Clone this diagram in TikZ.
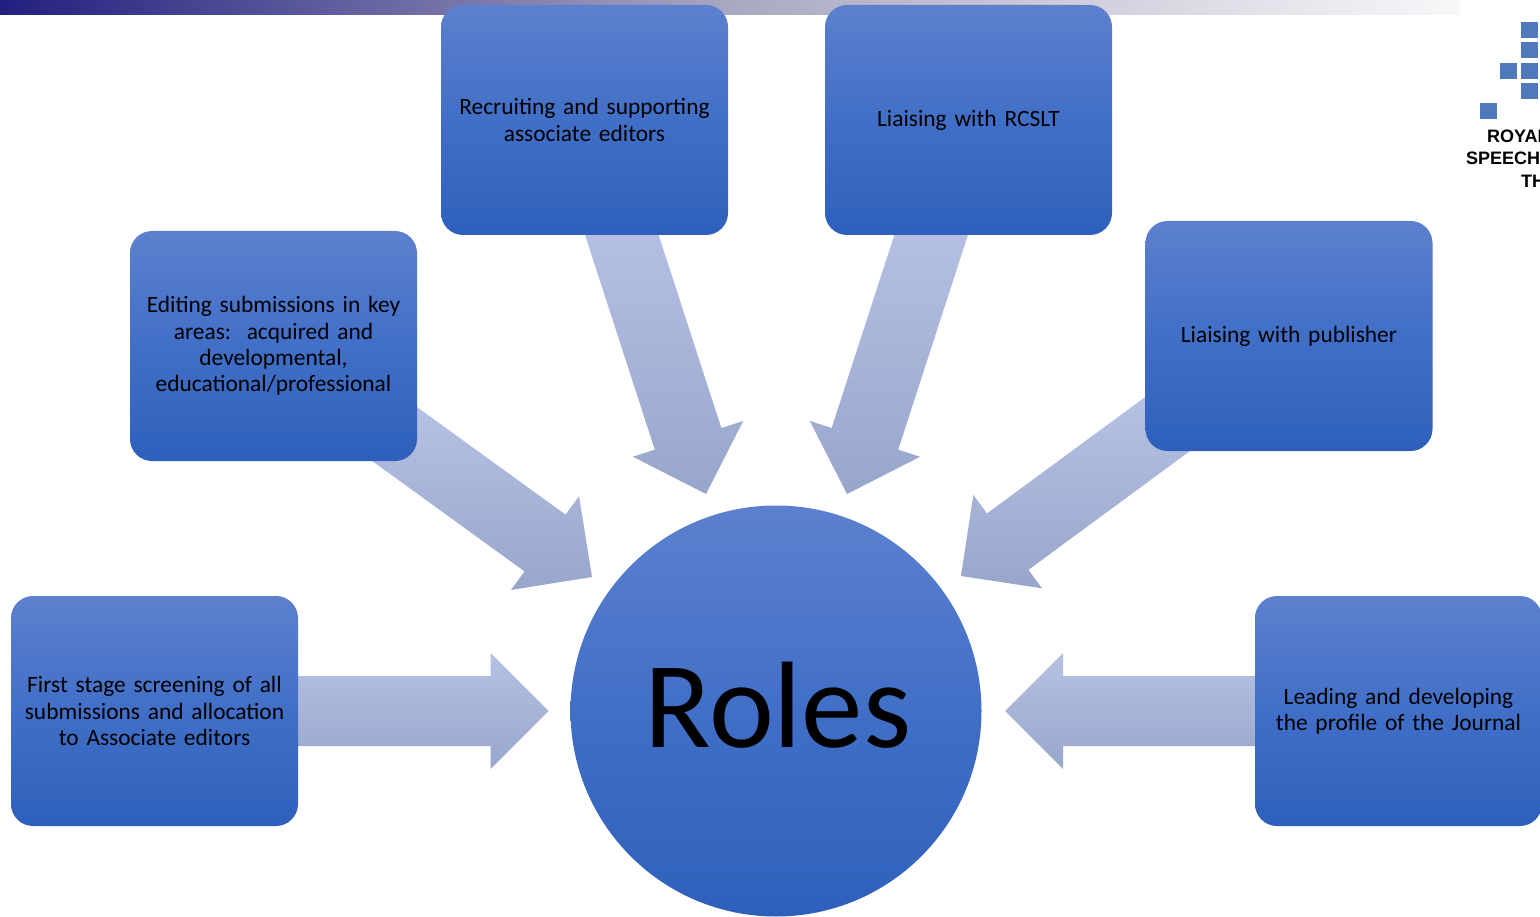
\documentclass[tikz,border=0pt]{standalone}
\usepackage{fontspec}
\setmainfont{Carlito}
\newfontfamily\logofont{Liberation Sans}
\usetikzlibrary{calc,backgrounds}
\definecolor{boxtop}{HTML}{5C80CE}
\definecolor{boxmid}{HTML}{416FC7}
\definecolor{boxbot}{HTML}{2E60BB}
\definecolor{arrowtop}{HTML}{B5C2E4}
\definecolor{arrowbot}{HTML}{99A6CC}
\definecolor{logoblue}{HTML}{4F79BC}
\definecolor{bardark}{HTML}{231F7F}
\definecolor{barmid}{HTML}{A8A8C2}
\definecolor{barlight}{HTML}{F8F8FA}
\tikzset{
	rolebox/.style={rectangle, rounded corners=22pt, minimum width=287pt, minimum height=230pt, inner sep=0pt, text width=280pt, align=center, top color=boxtop, bottom color=boxbot, middle color=boxmid, font=\fontsize{23.4}{26.4}\selectfont},
	rolehub/.style={circle, minimum size=411pt, inner sep=0pt, top color=boxtop, bottom color=boxbot, middle color=boxmid, font=\fontsize{123}{130}\selectfont},
	rolearrowshade/.style={top color=arrowtop, bottom color=arrowbot},
	logosq/.style={rectangle, minimum width=17pt, minimum height=16pt, inner sep=0pt, fill=logoblue},
	logotext/.style={anchor=base west, inner sep=0pt, font=\logofont\bfseries\fontsize{18}{20}\selectfont}
}
\def\rolearrow(#1)(#2)[#3]{
	\coordinate (tail) at ($(#1)!#3!(#2)$);
	\coordinate (neck) at ($(#2)!58pt!(#1)$);
	\shade[rolearrowshade] ($(tail)!35pt!90:(#2)$) -- ($(neck)!35pt!-90:(#1)$) -- ($(neck)!58pt!-90:(#1)$) -- (#2) -- ($(neck)!58pt!90:(#1)$) -- ($(neck)!35pt!90:(#1)$) -- ($(tail)!35pt!-90:(#2)$) -- cycle;
}

\begin{document}
\begin{tikzpicture}[x=1pt, y=-1pt]
	\useasboundingbox (0, 0) rectangle (1540, 917);
	
	%%%%% BAR %%%%%
	\shade[left color=bardark, right color=barlight, middle color=barmid] (0, 0) rectangle (1460, 15);
	
	%%%%% BOXES %%%%%
	\node[rolehub] (roles) at (776, 711) {\hspace{4pt}\raisebox{-36pt}[0pt][0pt]{Roles}};
	
	\node[rolebox] (screening) at (154.5, 711) {First stage screening of all\\submissions and allocation\\to Associate editors};
	\node[rolebox] (editing) at (273.5, 346) {Editing submissions in key\\areas:\ \ acquired and\\developmental,\\educational/professional};
	\node[rolebox] (recruiting) at (584.5, 120) {Recruiting and supporting\\associate editors};
	\node[rolebox] (rcslt) at (968.5, 120) {Liaising with RCSLT};
	\node[rolebox] (publisher) at (1289, 336) {Liaising with publisher};
	\node[rolebox] (profile) at (1398.5, 711) {Leading and developing\\the profile of the Journal};
	
	%%%%% ARROWS %%%%%
	\coordinate (tipscreening) at (548.5, 711);
	\coordinate (tipediting) at (592, 577);
	\coordinate (tiprecruiting) at (706, 494);
	\coordinate (tiprcslt) at (847, 494);
	\coordinate (tippublisher) at (961, 576);
	\coordinate (tipprofile) at (1005, 711);
	
	\begin{pgfonlayer}{background}
		\rolearrow(screening.east)(tipscreening)[-5pt]
		\rolearrow(editing.-36)(tipediting)[-30pt]
		\rolearrow(recruiting.-72)(tiprecruiting)[-12pt]
		\rolearrow(rcslt.-108)(tiprcslt)[-12pt]
		\rolearrow(publisher.216)(tippublisher)[-30pt]
		\rolearrow(profile.west)(tipprofile)[-5pt]
	\end{pgfonlayer}
	
	%%%%% LOGO %%%%%
	\node[logosq] (sqa) at (1529.5, 30) {};
	\node[logosq] (sqb) at (1529.5, 50) {};
	\node[logosq] (sqc) at (1529.5, 71) {};
	\node[logosq] (sqd) at (1508.5, 71) {};
	\node[logosq] (sqe) at (1529.5, 91) {};
	\node[logosq] (sqf) at (1488.5, 111) {};
	
	\node[logotext] (royal) at (1487, 143) {ROYAL};
	\node[logotext] (speech) at (1466, 165) {SPEECH};
	\node[logotext] (th) at (1521, 188) {TH};
\end{tikzpicture}
\end{document}
